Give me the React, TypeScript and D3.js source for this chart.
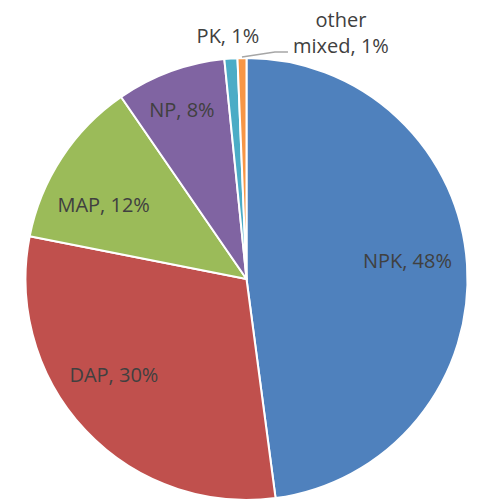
import React, { useEffect, useRef } from 'react';
import * as d3 from 'd3';

const categories = ['NPK', 'DAP', 'MAP', 'NP', 'PK', 'other mixed'];
const shares = [47.9, 30.2, 12.3, 8.0, 0.95, 0.65];
const sliceColors = ['#4F81BD', '#C0504D', '#9BBB59', '#8064A2', '#4BACC6', '#F79646'];

// label nudges relative to arc centroid (Excel "best fit" placement)
const nudges: Record<string, [number, number]> = {
  NPK: [0, -7],
  DAP: [-15, -14],
  MAP: [-8, 15],
  NP: [-9, -18],
};

const width = 477;
const height = 500;

export default function App() {
  const svgRef = useRef<SVGSVGElement>(null);

  useEffect(() => {
    if (!svgRef.current) return;
    const svg = d3.select(svgRef.current);
    svg.selectAll('*').remove();

    const cx = 246.5;
    const cy = 279;
    const r = 221;
    const font = "'Open Sans', sans-serif";
    const textColor = '#404040';

    const data = categories.map((c, i) => ({ name: c, value: shares[i], color: sliceColors[i] }));
    const pie = d3.pie<typeof data[0]>().value(d => d.value).sort(null);
    const arcs = pie(data);
    const arc = d3.arc<d3.PieArcDatum<typeof data[0]>>().innerRadius(0).outerRadius(r);
    const labelArc = d3.arc<d3.PieArcDatum<typeof data[0]>>().innerRadius(r * 0.73).outerRadius(r * 0.73);

    const g = svg.append('g').attr('transform', `translate(${cx},${cy})`);

    g.selectAll('path.slice')
      .data(arcs)
      .enter().append('path')
      .attr('class', 'slice')
      .attr('d', arc)
      .attr('fill', d => d.data.color)
      .attr('stroke', '#ffffff')
      .attr('stroke-width', 2)
      .attr('stroke-linejoin', 'round');

    const label = (d: d3.PieArcDatum<typeof data[0]>) => `${d.data.name}, ${Math.round(d.data.value)}%`;

    // inside labels
    arcs.filter(d => nudges[d.data.name]).forEach(d => {
      const [x, y] = labelArc.centroid(d);
      const [nx, ny] = nudges[d.data.name];
      g.append('text')
        .attr('x', x + nx)
        .attr('y', y + ny)
        .attr('dy', '0.35em')
        .attr('text-anchor', 'middle')
        .attr('font-family', font)
        .attr('font-size', '20px')
        .attr('fill', textColor)
        .text(label(d));
    });

    // PK outside label
    const pk = arcs[4];
    const pkMid = (pk.startAngle + pk.endAngle) / 2;
    g.append('text')
      .attr('x', Math.sin(pkMid) * r - 3)
      .attr('y', -r - 22)
      .attr('dy', '0.35em')
      .attr('text-anchor', 'middle')
      .attr('font-family', font)
      .attr('font-size', '20px')
      .attr('fill', textColor)
      .text(label(pk));

    // other mixed outside label with leader
    const om = arcs[5];
    const omMid = (om.startAngle + om.endAngle) / 2;
    const sx = Math.sin(omMid) * (r + 1);
    const sy = -Math.cos(omMid) * (r + 1);
    const ex = sx + 33;
    const ey = sy - 5;
    g.append('polyline')
      .attr('points', `${sx},${sy} ${ex},${ey} ${ex + 13},${ey}`)
      .attr('fill', 'none')
      .attr('stroke', '#A6A6A6')
      .attr('stroke-width', 1.5);

    const tx = ex + 66;
    const txt = g.append('text')
      .attr('text-anchor', 'middle')
      .attr('font-family', font)
      .attr('font-size', '20px')
      .attr('fill', textColor);
    const words = om.data.name.split(' ');
    txt.append('tspan').attr('x', tx).attr('y', ey - 25).text(words[0]);
    txt.append('tspan').attr('x', tx).attr('y', ey + 1)
      .text(`${words[1]}, ${Math.round(om.data.value)}%`);
  }, []);

  return (
    <svg
      ref={svgRef}
      width={width}
      height={height}
      viewBox={`0 0 ${width} ${height}`}
      style={{ position: 'absolute', left: 0, top: 0, background: '#ffffff' }}
    />
  );
}
